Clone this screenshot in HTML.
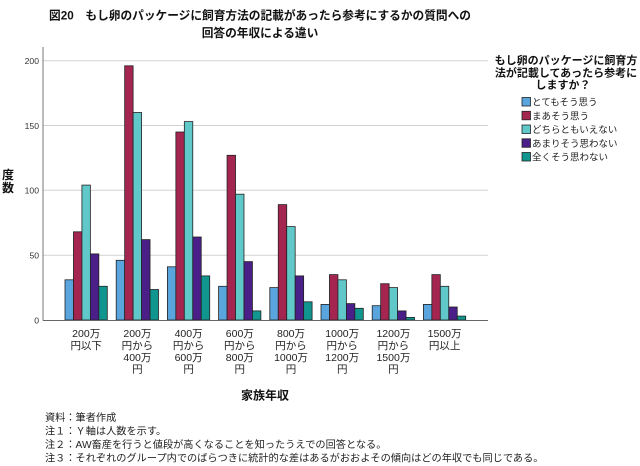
<!DOCTYPE html>
<html><head><meta charset="utf-8"><style>
html,body{margin:0;padding:0;background:#fff;}
svg{display:block;}
text{font-family:"Liberation Sans","Noto Sans CJK JP",sans-serif;}
</style></head><body>
<svg width="640" height="466" viewBox="0 0 640 466" xmlns="http://www.w3.org/2000/svg">
<rect width="640" height="466" fill="#fff"/>
<!-- title -->
<text x="260" y="19.5" font-size="11.7" font-weight="bold" text-anchor="middle" fill="#111">図20　もし卵のパッケージに飼育方法の記載があったら参考にするかの質問への</text>
<text x="260" y="37" font-size="11.7" font-weight="bold" text-anchor="middle" fill="#111">回答の年収による違い</text>
<!-- gridlines -->
<g stroke="#d2d2d2" stroke-width="1">
<line x1="43" y1="60.7" x2="488" y2="60.7"/>
<line x1="43" y1="125.5" x2="488" y2="125.5"/>
<line x1="43" y1="190.3" x2="488" y2="190.3"/>
<line x1="43" y1="255.2" x2="488" y2="255.2"/>
</g>
<!-- y ticks -->
<g font-size="8.6" fill="#333" text-anchor="end">
<text x="39" y="64">200</text>
<text x="39" y="128.8">150</text>
<text x="39" y="193.6">100</text>
<text x="39" y="258.5">50</text>
<text x="39" y="323.3">0</text>
</g>
<text x="8" y="179" font-size="12" font-weight="bold" text-anchor="middle" fill="#111">度</text>
<text x="8" y="192" font-size="12" font-weight="bold" text-anchor="middle" fill="#111">数</text>
<!-- bars -->
<g stroke="#222" stroke-width="0.8" id="bars"></g>
<g stroke="#222" stroke-width="0.8">
<!-- generated statically below -->
</g>
<!-- axes -->
<line x1="43" y1="47" x2="43" y2="320.5" stroke="#777" stroke-width="1"/>
<line x1="43" y1="320.5" x2="488" y2="320.5" stroke="#666" stroke-width="1"/>
<!-- x labels -->
<g font-size="10.5" fill="#222" text-anchor="middle">
<text x="86.2" y="337">200万</text><text x="86.2" y="349">円以下</text>
<text x="137.4" y="337">200万</text><text x="137.4" y="349">円から</text><text x="137.4" y="361">400万</text><text x="137.4" y="372.5">円</text>
<text x="188.6" y="337">400万</text><text x="188.6" y="349">円から</text><text x="188.6" y="361">600万</text><text x="188.6" y="372.5">円</text>
<text x="239.8" y="337">600万</text><text x="239.8" y="349">円から</text><text x="239.8" y="361">800万</text><text x="239.8" y="372.5">円</text>
<text x="291" y="337">800万</text><text x="291" y="349">円から</text><text x="291" y="361">1000万</text><text x="291" y="372.5">円</text>
<text x="342.2" y="337">1000万</text><text x="342.2" y="349">円から</text><text x="342.2" y="361">1200万</text><text x="342.2" y="372.5">円</text>
<text x="393.4" y="337">1200万</text><text x="393.4" y="349">円から</text><text x="393.4" y="361">1500万</text><text x="393.4" y="372.5">円</text>
<text x="444.6" y="337">1500万</text><text x="444.6" y="349">円以上</text>
</g>
<text x="265" y="399.5" font-size="12" font-weight="bold" text-anchor="middle" fill="#111">家族年収</text>
<!-- legend -->
<g font-size="11" font-weight="bold" fill="#111" text-anchor="middle">
<text x="566" y="64">もし卵のパッケージに飼育方</text>
<text x="566" y="76.5">法が記載してあったら参考に</text>
<text x="563" y="88.5">しますか？</text>
</g>
<g stroke="#222" stroke-width="0.8">
<rect x="522" y="97.5" width="8.5" height="8.5" fill="#5aa5de"/>
<rect x="522" y="111.3" width="8.5" height="8.5" fill="#a42650"/>
<rect x="522" y="125" width="8.5" height="8.5" fill="#60c8c8"/>
<rect x="522" y="138.8" width="8.5" height="8.5" fill="#4a2088"/>
<rect x="522" y="152.5" width="8.5" height="8.5" fill="#10968e"/>
</g>
<g font-size="9.5" fill="#222">
<text x="532" y="105.5">とてもそう思う</text>
<text x="532" y="119.3">まあそう思う</text>
<text x="532" y="133">どちらともいえない</text>
<text x="532" y="146.8">あまりそう思わない</text>
<text x="532" y="160.5">全くそう思わない</text>
</g>
<!-- notes -->
<g font-size="10.2" fill="#222">
<text x="45" y="421">資料：筆者作成</text>
<text x="45" y="434.5">注１：Ｙ軸は人数を示す。</text>
<text x="45" y="448">注２：AW畜産を行うと値段が高くなることを知ったうえでの回答となる。</text>
<text x="45" y="461.5">注３：それぞれのグループ内でのばらつきに統計的な差はあるがおおよその傾向はどの年収でも同じである。</text>
</g>
<!-- bars static -->
<g stroke="#222" stroke-width="0.8">
<!-- G1 -->
<rect x="65" y="279.8" width="8.46" height="40.2" fill="#5aa5de"/>
<rect x="73.46" y="231.8" width="8.46" height="88.2" fill="#a42650"/>
<rect x="81.92" y="185.1" width="8.46" height="134.9" fill="#60c8c8"/>
<rect x="90.38" y="253.9" width="8.46" height="66.1" fill="#4a2088"/>
<rect x="98.84" y="286.3" width="8.46" height="33.7" fill="#10968e"/>
<!-- G2 -->
<rect x="116.2" y="260.3" width="8.46" height="59.7" fill="#5aa5de"/>
<rect x="124.66" y="65.8" width="8.46" height="254.2" fill="#a42650"/>
<rect x="133.12" y="112.5" width="8.46" height="207.5" fill="#60c8c8"/>
<rect x="141.58" y="239.6" width="8.46" height="80.4" fill="#4a2088"/>
<rect x="150.04" y="289.5" width="8.46" height="30.5" fill="#10968e"/>
<!-- G3 -->
<rect x="167.4" y="266.8" width="8.46" height="53.2" fill="#5aa5de"/>
<rect x="175.86" y="132" width="8.46" height="188" fill="#a42650"/>
<rect x="184.32" y="121.6" width="8.46" height="198.4" fill="#60c8c8"/>
<rect x="192.78" y="237" width="8.46" height="83" fill="#4a2088"/>
<rect x="201.24" y="275.9" width="8.46" height="44.1" fill="#10968e"/>
<!-- G4 -->
<rect x="218.6" y="286.3" width="8.46" height="33.7" fill="#5aa5de"/>
<rect x="227.06" y="155.3" width="8.46" height="164.7" fill="#a42650"/>
<rect x="235.52" y="194.2" width="8.46" height="125.8" fill="#60c8c8"/>
<rect x="243.98" y="261.6" width="8.46" height="58.4" fill="#4a2088"/>
<rect x="252.44" y="310.9" width="8.46" height="9.1" fill="#10968e"/>
<!-- G5 -->
<rect x="269.8" y="287.6" width="8.46" height="32.4" fill="#5aa5de"/>
<rect x="278.26" y="204.6" width="8.46" height="115.4" fill="#a42650"/>
<rect x="286.72" y="226.6" width="8.46" height="93.4" fill="#60c8c8"/>
<rect x="295.18" y="275.9" width="8.46" height="44.1" fill="#4a2088"/>
<rect x="303.64" y="301.8" width="8.46" height="18.2" fill="#10968e"/>
<!-- G6 -->
<rect x="321" y="304.4" width="8.46" height="15.6" fill="#5aa5de"/>
<rect x="329.46" y="274.6" width="8.46" height="45.4" fill="#a42650"/>
<rect x="337.92" y="279.8" width="8.46" height="40.2" fill="#60c8c8"/>
<rect x="346.38" y="303.6" width="8.46" height="16.4" fill="#4a2088"/>
<rect x="354.84" y="308.3" width="8.46" height="11.7" fill="#10968e"/>
<!-- G7 -->
<rect x="372.2" y="305.7" width="8.46" height="14.3" fill="#5aa5de"/>
<rect x="380.66" y="283.7" width="8.46" height="36.3" fill="#a42650"/>
<rect x="389.12" y="287.6" width="8.46" height="32.4" fill="#60c8c8"/>
<rect x="397.58" y="310.9" width="8.46" height="9.1" fill="#4a2088"/>
<rect x="406.04" y="317.4" width="8.46" height="2.6" fill="#10968e"/>
<!-- G8 -->
<rect x="423.4" y="304.4" width="8.46" height="15.6" fill="#5aa5de"/>
<rect x="431.86" y="274.6" width="8.46" height="45.4" fill="#a42650"/>
<rect x="440.32" y="286.3" width="8.46" height="33.7" fill="#60c8c8"/>
<rect x="448.78" y="307" width="8.46" height="13" fill="#4a2088"/>
<rect x="457.24" y="316.1" width="8.46" height="3.9" fill="#10968e"/>
</g>
<line x1="43" y1="320.5" x2="488" y2="320.5" stroke="#666" stroke-width="1"/>
</svg>
</body></html>
